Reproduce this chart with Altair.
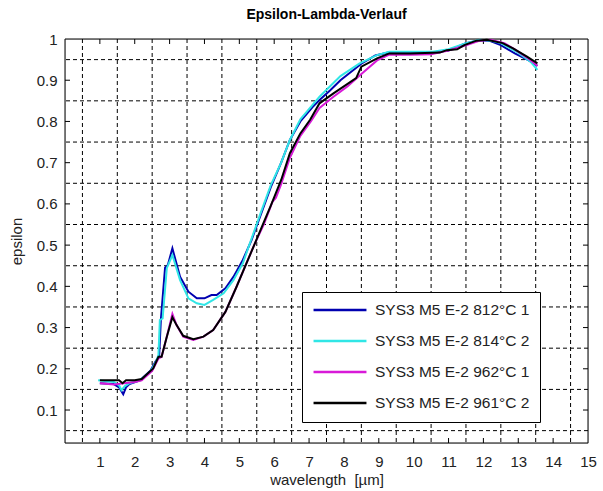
import altair as alt
import pandas as pd

# ---- data ----
series_names = ["SYS3 M5 E-2 812°C 1", "SYS3 M5 E-2 814°C 2",
                "SYS3 M5 E-2 962°C 1", "SYS3 M5 E-2 961°C 2"]
series_colors = ["#0000b0", "#30e6e6", "#d81ad8", "#000000"]

x_812 = [1.0, 1.4, 1.55, 1.67, 1.75, 1.85, 2.15, 2.45, 2.6, 2.7, 2.75, 2.87, 2.95, 3.08, 3.3, 3.54,
         3.78, 4.0, 4.2, 4.35, 4.6, 4.83, 5.1, 5.35, 5.6, 5.9, 6.2, 6.45, 6.75, 7.1, 7.3, 7.6, 7.9,
         8.2, 8.5, 8.9, 9.3, 9.9, 10.5, 11.0, 11.5, 11.9, 12.2, 12.5, 12.9, 13.3, 13.55]
y_812 = [0.165, 0.163, 0.155, 0.138, 0.155, 0.163, 0.172, 0.195, 0.218, 0.23, 0.32, 0.445, 0.452,
         0.492, 0.423, 0.387, 0.371, 0.371, 0.379, 0.379, 0.395, 0.423, 0.464, 0.512, 0.57, 0.64,
         0.70, 0.755, 0.80, 0.835, 0.852, 0.875, 0.9, 0.92, 0.94, 0.96, 0.968, 0.967, 0.967, 0.972,
         0.99, 0.997, 0.995, 0.985, 0.965, 0.948, 0.935]

x_814 = [0.95, 1.4, 1.55, 1.62, 1.72, 1.85, 2.15, 2.45, 2.6, 2.68, 2.72, 2.8, 2.92, 3.08, 3.3, 3.54,
         3.78, 4.0, 4.25, 4.55, 4.83, 5.1, 5.3, 5.6, 5.9, 6.2, 6.45, 6.75, 7.3, 7.9, 8.45, 8.95, 9.3,
         9.9, 10.55, 11.0, 11.5, 11.9, 12.2, 12.5, 12.95, 13.35, 13.55]
y_814 = [0.172, 0.168, 0.16, 0.148, 0.158, 0.165, 0.172, 0.193, 0.215, 0.233, 0.318, 0.322, 0.444,
         0.476, 0.415, 0.371, 0.359, 0.355, 0.367, 0.383, 0.415, 0.456, 0.504, 0.575, 0.645, 0.70,
         0.755, 0.805, 0.86, 0.91, 0.941, 0.961, 0.969, 0.969, 0.969, 0.975, 0.99, 0.998, 0.996,
         0.99, 0.969, 0.945, 0.925]

x_962 = [1.0, 1.4, 1.7, 2.0, 2.2, 2.5, 2.68, 2.77, 2.92, 3.08, 3.2, 3.39, 3.68, 3.97, 4.25, 4.6,
         4.92, 5.2, 5.45, 5.7, 5.95, 6.05, 6.2, 6.45, 6.75, 7.05, 7.3, 7.7, 8.1, 8.5, 8.95, 9.3, 9.9,
         10.5, 11.0, 11.5, 11.9, 12.2, 12.6, 12.9, 13.25, 13.55]
y_962 = [0.165, 0.162, 0.165, 0.168, 0.172, 0.195, 0.225, 0.229, 0.278, 0.333, 0.306, 0.278, 0.27,
         0.278, 0.294, 0.338, 0.399, 0.455, 0.505, 0.55, 0.605, 0.615, 0.648, 0.712, 0.765, 0.80,
         0.833, 0.86, 0.885, 0.915, 0.948, 0.962, 0.962, 0.963, 0.972, 0.985, 0.996, 0.998, 0.99,
         0.975, 0.955, 0.935]

x_961 = [1.0, 1.4, 1.55, 1.65, 1.75, 2.0, 2.2, 2.53, 2.68, 2.77, 2.92, 3.08, 3.2, 3.39, 3.68, 3.97,
         4.25, 4.6, 4.92, 5.2, 5.45, 5.7, 5.9, 6.2, 6.45, 6.75, 7.03, 7.3, 7.7, 8.35, 8.5, 8.95, 9.3,
         9.9, 10.75, 10.95, 11.25, 11.45, 11.8, 12.1, 12.55, 12.85, 13.25, 13.55]
y_961 = [0.172, 0.172, 0.172, 0.165, 0.172, 0.172, 0.175, 0.201, 0.229, 0.229, 0.278, 0.325, 0.306,
         0.28, 0.272, 0.278, 0.294, 0.338, 0.399, 0.455, 0.505, 0.555, 0.595, 0.658, 0.723, 0.771,
         0.804, 0.844, 0.868, 0.905, 0.933, 0.953, 0.965, 0.965, 0.967, 0.973, 0.975, 0.985, 0.996,
         0.998, 0.99, 0.977, 0.957, 0.941]

x_ticks = list(range(1, 16))
y_ticks = [0.1, 0.2, 0.3, 0.4, 0.5, 0.6, 0.7, 0.8, 0.9, 1.0]
grid_x = [0.5 + i for i in range(15)]
grid_y = [0.05, 0.15, 0.25, 0.35, 0.45, 0.55, 0.65, 0.75, 0.85, 0.95]

X_DOM = [0, 15]
Y_DOM = [0.02, 1.0]

# ---- layout constants ----
W, H = 523, 404
TICK_PX = 5
tick_dy = TICK_PX / H * (Y_DOM[1] - Y_DOM[0])
tick_dx = TICK_PX / W * (X_DOM[1] - X_DOM[0])
FONT = "Liberation Sans"

rows = []
for name, xs, ys in zip(series_names, [x_812, x_814, x_962, x_961], [y_812, y_814, y_962, y_961]):
    for i, (xv, yv) in enumerate(zip(xs, ys)):
        rows.append({"series": name, "x": xv, "y": yv, "i": i})
df = pd.DataFrame(rows)

xscale = alt.Scale(domain=X_DOM, nice=False, zero=False)
yscale = alt.Scale(domain=Y_DOM, nice=False, zero=False)

xaxis = alt.Axis(values=x_ticks, grid=False, ticks=False, domain=False, labelFontSize=15,
                 labelFont=FONT, labelColor="#222", labelPadding=11,
                 title="wavelength\u00a0\u00a0[µm]",
                 titleFont=FONT, titleFontSize=15, titleFontWeight="normal", titleColor="#222",
                 titlePadding=3, labelFlush=False)
yaxis = alt.Axis(values=y_ticks, format="~g", grid=False, ticks=False, domain=False,
                 labelFontSize=15, labelFont=FONT, labelColor="#222", labelPadding=8,
                 title="epsilon", titleFont=FONT, titleFontSize=15, titleFontWeight="normal",
                 titleColor="#222", titlePadding=12, labelFlush=False)

base_x = alt.X("x:Q", scale=xscale, axis=xaxis)
base_y = alt.Y("y:Q", scale=yscale, axis=yaxis)

grid_v = alt.Chart(pd.DataFrame({"x": grid_x})).mark_rule(
    color="#000", strokeWidth=1, strokeDash=[4, 3]).encode(x=alt.X("x:Q", scale=xscale, axis=xaxis))
grid_h = alt.Chart(pd.DataFrame({"y": grid_y})).mark_rule(
    color="#000", strokeWidth=1, strokeDash=[4, 3]).encode(y=alt.Y("y:Q", scale=yscale, axis=yaxis))

tx = pd.DataFrame({"x": x_ticks[:-1]})
tx_bot = tx.assign(y=Y_DOM[0], y2=Y_DOM[0] + tick_dy)
tx_top = tx.assign(y=Y_DOM[1] - tick_dy, y2=Y_DOM[1])
ty = pd.DataFrame({"y": y_ticks[:-1]})
ty_left = ty.assign(x=X_DOM[0], x2=X_DOM[0] + tick_dx)
ty_right = ty.assign(x=X_DOM[1] - tick_dx, x2=X_DOM[1])

tick_x = alt.Chart(pd.concat([tx_bot, tx_top])).mark_rule(color="#000", strokeWidth=1).encode(
    x=alt.X("x:Q", scale=xscale, axis=xaxis), y=alt.Y("y:Q", scale=yscale, axis=yaxis), y2="y2:Q")
tick_y = alt.Chart(pd.concat([ty_left, ty_right])).mark_rule(color="#000", strokeWidth=1).encode(
    y=alt.Y("y:Q", scale=yscale, axis=yaxis), x=alt.X("x:Q", scale=xscale, axis=xaxis), x2="x2:Q")

border_v = alt.Chart(pd.DataFrame({"x": X_DOM})).mark_rule(color="#000", strokeWidth=1).encode(
    x=alt.X("x:Q", scale=xscale, axis=xaxis))
border_h = alt.Chart(pd.DataFrame({"y": Y_DOM})).mark_rule(color="#000", strokeWidth=1).encode(
    y=alt.Y("y:Q", scale=yscale, axis=yaxis))

lines = alt.Chart(df).mark_line(strokeWidth=2).encode(
    x=base_x, y=base_y, order="i:Q",
    color=alt.Color("series:N", scale=alt.Scale(domain=series_names, range=series_colors),
                    sort=series_names,
                    legend=alt.Legend(title=None, orient="none", legendX=237, legendY=253,
                                      symbolType="stroke", symbolSize=2800, symbolStrokeWidth=2.5,
                                      clipHeight=16, rowPadding=14, padding=10,
                                      labelFont=FONT, labelFontSize=15.5, labelColor="#222",
                                      labelOffset=7, labelLimit=400,
                                      fillColor="white", strokeColor="#000")),
)

chart = alt.layer(grid_v, grid_h, tick_x, tick_y, border_v, border_h, lines).properties(
    width=W, height=H,
    title=alt.TitleParams("Epsilon-Lambda-Verlauf", font=FONT, fontSize=14, fontWeight="bold",
                          color="#000", anchor="middle", offset=10),
    autosize=alt.AutoSizeParams(type="none"),
    padding={"left": 65, "top": 39, "right": 15, "bottom": 48},
).configure_view(stroke="#000", strokeWidth=1, fill="white").configure(background="white")

chart.save("out.html", embed_options={"renderer": "svg", "actions": False})
